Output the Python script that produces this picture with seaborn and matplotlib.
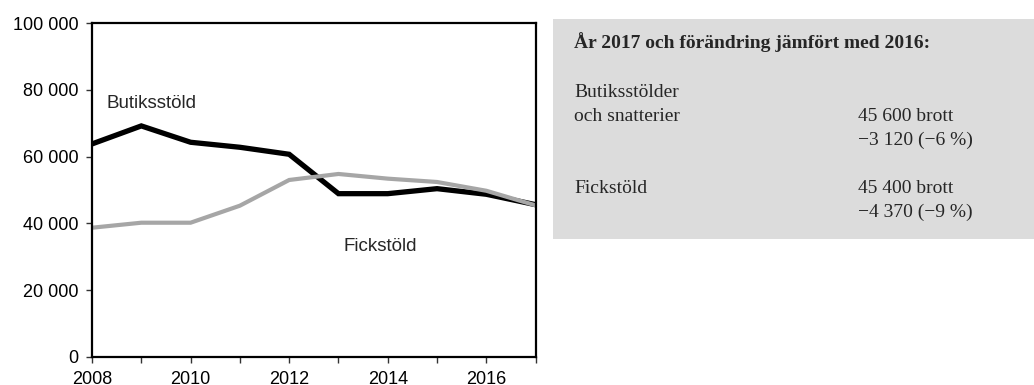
import matplotlib
matplotlib.use("Agg")
import matplotlib.pyplot as plt
from matplotlib.patches import Rectangle
from matplotlib.ticker import FuncFormatter, MultipleLocator
import numpy as np
import pandas as pd
import seaborn as sns

# Reported offences per year
years = [2008, 2009, 2010, 2011, 2012, 2013, 2014, 2015, 2016, 2017]
butik = [63800, 69200, 64300, 62800, 60700, 48900, 48900, 50400, 48720, 45600]
fick = [38700, 40200, 40200, 45300, 53000, 54800, 53400, 52400, 49770, 45400]

series_names = ["Butiksstöld", "Fickstöld"]
series_colors = ["#000000", "#a6a6a6"]

box_title = "År 2017 och förändring jämfört med 2016:"
box_labels = [["Butiksstölder", "och snatterier"], ["Fickstöld"]]
box_values = [["45 600 brott", "\u22123 120 (\u22126 %)"],
              ["45 400 brott", "\u22124 370 (\u22129 %)"]]

df = pd.DataFrame({
    "år": years * 2,
    "antal": butik + fick,
    "brott": [series_names[0]] * len(years) + [series_names[1]] * len(years),
})

sns.set_theme(style="white")
plt.rcParams["font.family"] = ["Liberation Sans", "DejaVu Sans"]

fig = plt.figure(figsize=(10.34, 3.85), dpi=100)
ax = fig.add_axes([0.089, 0.073, 0.429, 0.867])

sns.lineplot(data=df, x="år", y="antal", hue="brott", hue_order=series_names,
             palette=series_colors, ax=ax, legend=False, estimator=None)
for line, lw in zip(ax.get_lines(), [3.8, 3.0]):
    line.set_linewidth(lw)
    line.set_solid_joinstyle("miter")

ax.set_xlim(2008, 2017)
ax.set_ylim(0, 100000)
ax.xaxis.set_major_locator(MultipleLocator(2))
ax.xaxis.set_minor_locator(MultipleLocator(1))
ax.yaxis.set_major_locator(MultipleLocator(20000))
ax.yaxis.set_major_formatter(FuncFormatter(lambda v, p: f"{int(v):,}".replace(",", " ")))
ax.tick_params(axis="both", which="both", direction="out", length=4, width=1,
               color="#333333", labelsize=13, labelcolor="#000000", bottom=True, left=True)
ax.tick_params(axis="x", which="major", pad=6)
ax.tick_params(axis="y", which="major", pad=6)
ax.set_xlabel("")
ax.set_ylabel("")
for s in ax.spines.values():
    s.set_color("black")
    s.set_linewidth(1.6)

ax.text(2008.3, 76000, series_names[0], fontsize=13.5, ha="left", va="center")
ax.text(2013.1, 33200, series_names[1], fontsize=13.5, ha="left", va="center")

# Summary box
fig.patches.append(Rectangle((553 / 1034, 1 - 239 / 385), 481 / 1034, 220 / 385,
                             transform=fig.transFigure, facecolor="#dcdcdc",
                             edgecolor="none", zorder=0))
serif = ["Liberation Serif", "DejaVu Serif"]
fs = 14
fig.text(574 / 1034, 1 - 48 / 385, box_title, family=serif, fontsize=fs,
         fontweight="bold", ha="left", va="baseline")

step = 24
label_top = [97, 193]
value_top = [121, 193]
for labels, values, ly, vy in zip(box_labels, box_values, label_top, value_top):
    for i, t in enumerate(labels):
        fig.text(574 / 1034, 1 - (ly + i * step) / 385, t, family=serif,
                 fontsize=fs, ha="left", va="baseline")
    for i, t in enumerate(values):
        fig.text(858 / 1034, 1 - (vy + i * step) / 385, t, family=serif,
                 fontsize=fs, ha="left", va="baseline")

fig.savefig("out.png", dpi=100)
